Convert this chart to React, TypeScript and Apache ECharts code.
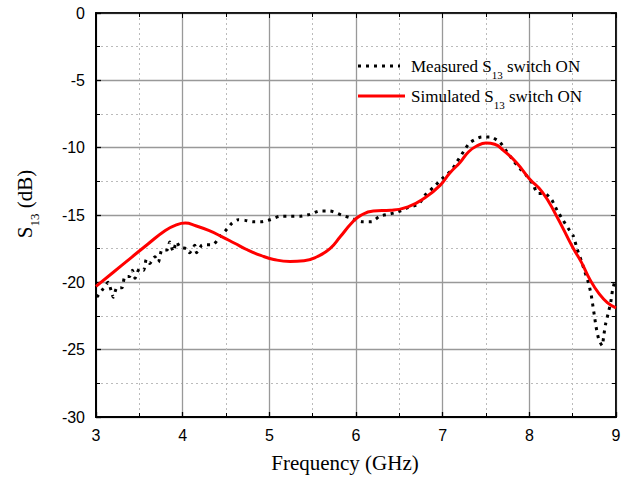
import React, { useEffect, useRef } from "react";
import * as echarts from "echarts";

const measuredFreq = [3.01, 3.08, 3.14, 3.2, 3.24, 3.3, 3.33, 3.39, 3.42, 3.45, 3.5, 3.55, 3.58, 3.62, 3.68, 3.72, 3.76, 3.82, 3.85, 3.89, 3.93, 3.97, 4.05, 4.08, 4.14, 4.16, 4.22, 4.28, 4.35, 4.43, 4.49, 4.57, 4.64, 4.72, 4.81, 4.91, 5.01, 5.12, 5.24, 5.35, 5.47, 5.58, 5.7, 5.83, 5.93, 6.07, 6.18, 6.27, 6.37, 6.47, 6.6, 6.72, 6.8, 6.9, 7.01, 7.1, 7.16, 7.24, 7.31, 7.45, 7.55, 7.66, 7.74, 7.82, 7.89, 7.97, 8.04, 8.1, 8.18, 8.26, 8.32, 8.39, 8.45, 8.51, 8.55, 8.6, 8.64, 8.68, 8.71, 8.73, 8.75, 8.77, 8.8, 8.84, 8.86, 8.88, 8.91, 8.94, 8.96, 8.99];
const measuredS13 = [-21.1, -20.5, -20.0, -21.1, -20.4, -20.4, -19.6, -19.55, -19.1, -19.7, -19.0, -19.1, -18.3, -18.6, -18.1, -18.5, -17.6, -17.6, -17.0, -17.7, -17.0, -17.4, -17.5, -17.8, -17.25, -17.8, -17.25, -17.2, -17.2, -16.6, -16.2, -15.6, -15.35, -15.4, -15.5, -15.5, -15.35, -15.1, -15.1, -15.1, -14.95, -14.7, -14.7, -15.0, -15.2, -15.5, -15.5, -15.1, -14.95, -14.8, -14.45, -14.2, -13.5, -12.9, -12.2, -11.7, -11.1, -10.3, -9.65, -9.2, -9.2, -9.6, -10.3, -11.0, -11.55, -12.1, -12.7, -13.4, -13.4, -13.9, -14.65, -15.4, -16.0, -16.6, -17.5, -18.4, -19.2, -20.0, -20.8, -21.6, -22.45, -23.3, -24.2, -24.7, -23.9, -23.1, -22.3, -21.45, -20.6, -19.8];

const simulatedFreq = [3.0, 3.2, 3.4, 3.6, 3.8, 3.92, 4.03, 4.15, 4.3, 4.45, 4.6, 4.75, 4.9, 5.05, 5.24, 5.4, 5.55, 5.7, 5.82, 5.95, 6.05, 6.2, 6.4, 6.6, 6.8, 6.97, 7.08, 7.2, 7.3, 7.4, 7.5, 7.6, 7.7, 7.85, 8.0, 8.15, 8.3, 8.5, 8.6, 8.7, 8.8, 8.9, 9.0];
const simulatedS13 = [-20.3, -19.25, -18.2, -17.15, -16.15, -15.75, -15.6, -15.8, -16.15, -16.6, -17.1, -17.6, -18.0, -18.3, -18.45, -18.4, -18.1, -17.5, -16.6, -15.6, -15.05, -14.7, -14.65, -14.4, -13.7, -12.8, -11.9, -11.1, -10.3, -9.85, -9.66, -9.75, -10.2, -11.1, -12.3, -13.3, -14.9, -17.4, -18.5, -19.8, -20.8, -21.5, -21.9];

const xTickLabels = ["3", "4", "5", "6", "7", "8", "9"];
const yTickLabels = ["-30", "-25", "-20", "-15", "-10", "-5", "0"];

const legendNames = ["Measured", "Simulated"];

export default function App() {
  const ref = useRef<HTMLDivElement>(null);
  useEffect(() => {
    document.body.style.margin = "0";
    if (!ref.current) return;
    const chart = echarts.init(ref.current, null, { renderer: "svg" });
    const serif = "Liberation Serif";
    const sans = "Liberation Sans";
    const minorLine = { show: true, lineStyle: { color: "#bbbbbb", type: [2, 3], width: 1 } };
    const majorLine = { show: true, lineStyle: { color: "#999999", type: "solid", width: 1.3 } };
    const rich = {
      a: { fontFamily: serif, fontSize: 17, color: "#000", lineHeight: 28, verticalAlign: "middle" },
      b: { fontFamily: serif, fontSize: 11, color: "#000", lineHeight: 12, verticalAlign: "bottom" },
    };
    const richTitle = {
      a: { fontFamily: serif, fontSize: 21, color: "#000", lineHeight: 32, verticalAlign: "middle" },
      b: { fontFamily: serif, fontSize: 13, color: "#000", lineHeight: 14, verticalAlign: "bottom" },
    };
    chart.setOption({
      animation: false,
      backgroundColor: "#ffffff",
      grid: { left: 96, right: 8, top: 13, bottom: 61, show: true, borderColor: "#000", borderWidth: 1.5, backgroundColor: "transparent" },
      xAxis: [
        {
          type: "value",
          min: 3,
          max: 9,
          interval: 1,
          axisLine: { show: true, onZero: false, lineStyle: { color: "#000", width: 2 } },
          axisTick: { show: true, inside: true, length: 5, lineStyle: { color: "#000", width: 1.3 } },
          minorTick: { show: true, splitNumber: 2, length: 4, lineStyle: { color: "#000" } },
          splitLine: majorLine,
          minorSplitLine: minorLine,
          axisLabel: {
            color: "#000",
            fontFamily: sans,
            fontSize: 16,
            margin: 10,
            formatter: (v: number) => xTickLabels[Math.round(v) - 3] ?? "",
          },
        },
        {
          type: "value",
          position: "top",
          min: 3,
          max: 9,
          interval: 1,
          axisLine: { show: true, lineStyle: { color: "#000", width: 1.5 } },
          axisTick: { show: true, inside: true, length: 5, lineStyle: { color: "#000" } },
          minorTick: { show: true, splitNumber: 2, length: 4, lineStyle: { color: "#000" } },
          splitLine: { show: false },
          axisLabel: { show: false },
        },
      ],
      yAxis: [
        {
          type: "value",
          min: -30,
          max: 0,
          interval: 5,
          axisLine: { show: true, onZero: false, lineStyle: { color: "#000", width: 2 } },
          axisTick: { show: true, inside: true, length: 5, lineStyle: { color: "#000", width: 1.3 } },
          minorTick: { show: true, splitNumber: 2, length: 4, lineStyle: { color: "#000" } },
          splitLine: majorLine,
          minorSplitLine: minorLine,
          axisLabel: {
            color: "#000",
            fontFamily: sans,
            fontSize: 16,
            margin: 11,
            formatter: (v: number) => yTickLabels[Math.round((v + 30) / 5)] ?? "",
          },
        },
        {
          type: "value",
          position: "right",
          min: -30,
          max: 0,
          interval: 5,
          axisLine: { show: true, lineStyle: { color: "#000", width: 1.5 } },
          axisTick: { show: true, inside: true, length: 5, lineStyle: { color: "#000" } },
          minorTick: { show: true, splitNumber: 2, length: 4, lineStyle: { color: "#000" } },
          splitLine: { show: false },
          axisLabel: { show: false },
        },
      ],
      series: [
        {
          name: legendNames[0],
          type: "line",
          data: measuredFreq.map((f, i) => [f, measuredS13[i]]),
          showSymbol: false,
          smooth: 0.2,
          lineStyle: { color: "#000", width: 3, type: [3, 5] },
          z: 3,
        },
        {
          name: legendNames[1],
          type: "line",
          data: simulatedFreq.map((f, i) => [f, simulatedS13[i]]),
          showSymbol: false,
          smooth: 0.5,
          lineStyle: { color: "#ff0000", width: 3 },
          z: 4,
        },
      ],
      graphic: [
        { type: "line", shape: { x1: 358, y1: 66, x2: 400, y2: 66 }, style: { stroke: "#000", lineWidth: 3, lineDash: [3, 5] }, z: 11 },
        { type: "line", shape: { x1: 358, y1: 96, x2: 405, y2: 96 }, style: { stroke: "#ff0000", lineWidth: 3 }, z: 11 },
        {
          type: "text",
          x: 411,
          y: 66,
          z: 11,
          style: { text: "{a|Measured S}{b|13}{a| switch ON}", rich, verticalAlign: "middle", align: "left" },
        },
        {
          type: "text",
          x: 411,
          y: 96,
          z: 11,
          style: { text: "{a|Simulated S}{b|13}{a| switch ON}", rich, verticalAlign: "middle", align: "left" },
        },
        {
          type: "text",
          x: 345,
          y: 463,
          style: { text: "{a|Frequency (GHz)}", rich: richTitle, align: "center", verticalAlign: "middle" },
        },
        {
          type: "text",
          x: 25,
          y: 204,
          rotation: Math.PI / 2,
          style: {
            text: "{a|S}{b|13}{a| (dB)}",
            rich: richTitle,
            align: "center",
            verticalAlign: "middle",
          },
        },
      ],
    });
    return () => chart.dispose();
  }, []);
  return <div ref={ref} style={{ width: 624, height: 478 }} />;
}
